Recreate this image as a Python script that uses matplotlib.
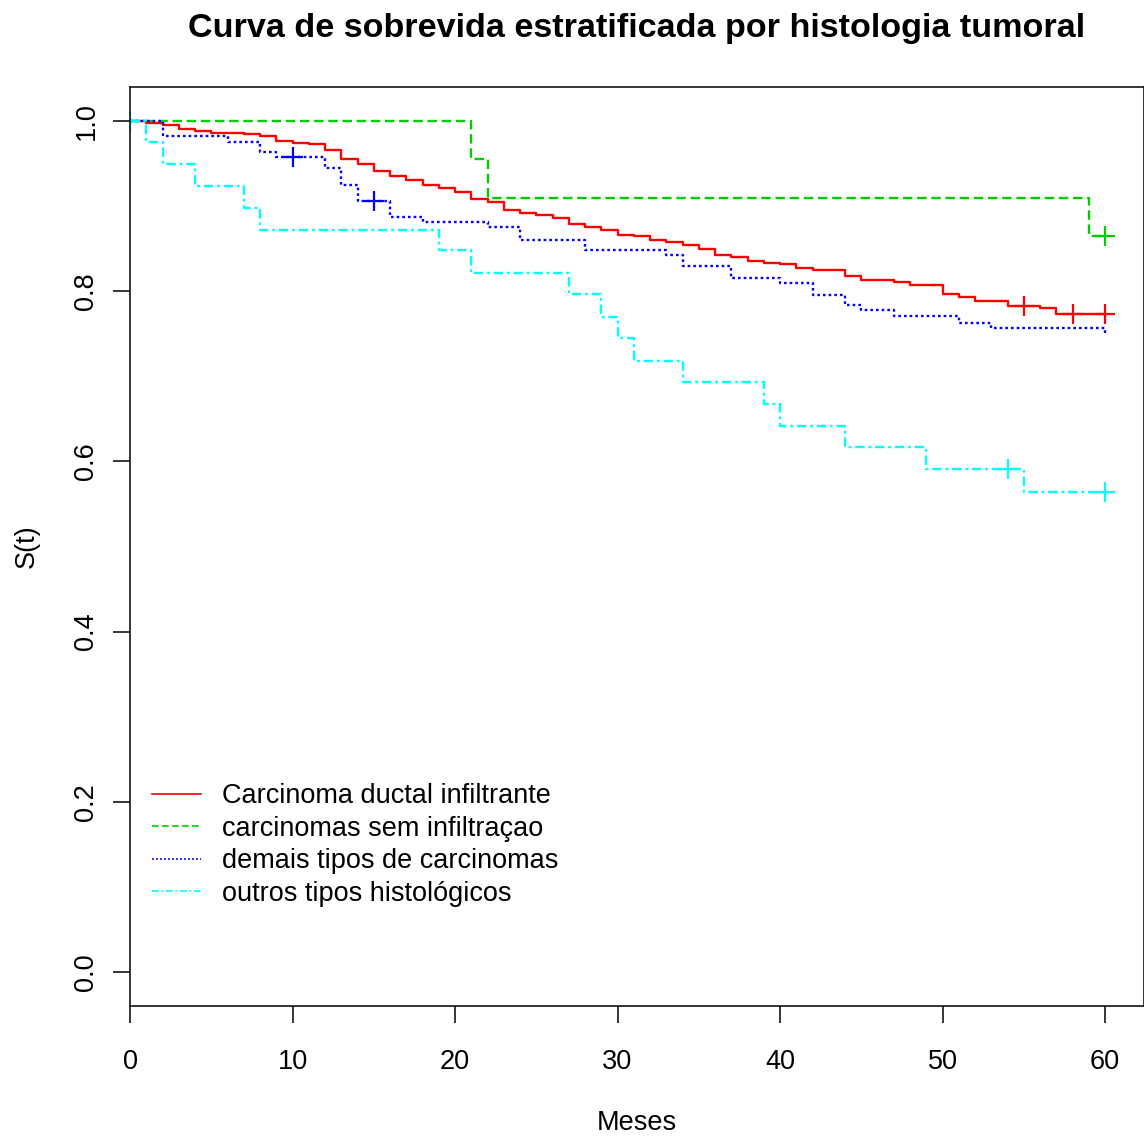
import numpy as np
import matplotlib
matplotlib.use("Agg")
import matplotlib.pyplot as plt

plt.rcParams['font.family'] = ['Liberation Sans', 'DejaVu Sans']

# Kaplan-Meier estimates (time in months, S(t) after the step)
t_ductal = [0, 1, 2, 3, 4, 5, 7, 8, 9, 10, 11, 12, 13, 14, 15, 16, 17, 18, 19, 20, 21, 22,
            23, 24, 25, 26, 27, 28, 29, 30, 31, 32, 33, 34, 35, 36, 37, 38, 39, 40, 41, 42,
            44, 45, 47, 48, 50, 51, 52, 54, 56, 57, 60]
s_ductal = [1.0, 0.998, 0.9953, 0.9906, 0.9878, 0.9862, 0.9843, 0.9827, 0.976, 0.9745, 0.9729,
            0.9662, 0.9553, 0.950, 0.9415, 0.9349, 0.931, 0.9247, 0.9208, 0.9169, 0.9082, 0.9043,
            0.8957, 0.8914, 0.889, 0.8855, 0.8792, 0.8749, 0.8725, 0.8662, 0.8647, 0.8604, 0.858,
            0.8545, 0.8498, 0.842, 0.8404, 0.8357, 0.8333, 0.8321, 0.8274, 0.8255, 0.8176, 0.8133,
            0.811, 0.807, 0.7965, 0.7929, 0.7882, 0.7824, 0.7804, 0.7737, 0.7737]
cens_t_ductal = [55, 58, 60]
cens_s_ductal = [0.7824, 0.7737, 0.7737]

t_sem = [0, 21, 22, 59, 60]
s_sem = [1.0, 0.955, 0.910, 0.865, 0.865]
cens_t_sem = [60]
cens_s_sem = [0.865]

t_demais = [0, 2, 6, 8, 9, 12, 13, 14, 16, 18, 22, 24, 28, 33, 34, 37, 40, 42, 44, 45, 47,
            51, 53, 60]
s_demais = [1.0, 0.9824, 0.9757, 0.964, 0.9576, 0.9447, 0.9247, 0.9063, 0.8874, 0.8808, 0.8757,
            0.8604, 0.8486, 0.842, 0.8298, 0.8153, 0.8098, 0.796, 0.7839, 0.7776, 0.7706,
            0.7631, 0.7573, 0.7514]
cens_t_demais = [10, 15]
cens_s_demais = [0.9576, 0.9063]

t_outros = [0, 1, 2, 4, 7, 8, 19, 21, 27, 29, 30, 31, 34, 39, 40, 44, 49, 55, 60]
s_outros = [1.0, 0.9757, 0.949, 0.9239, 0.8976, 0.8721, 0.8482, 0.8212, 0.7965, 0.7698, 0.7455,
            0.718, 0.6933, 0.6679, 0.6415, 0.6168, 0.5906, 0.5635, 0.5635]
cens_t_outros = [0, 54, 60]
cens_s_outros = [1.0, 0.5906, 0.5635]

labels = ['Carcinoma ductal infiltrante', 'carcinomas sem infiltraçao',
          'demais tipos de carcinomas', 'outros tipos histológicos']
cores = ['#FF0000', '#00CD00', '#0000FF', '#00FFFF']
estilos = ['-', (0, (4, 2)), (0, (1.1, 1.3)), (0, (4, 1.6, 1.2, 1.6))]

fig = plt.figure(figsize=(11.44, 11.39), dpi=100)
ax = fig.add_axes([130/1144, (1139-1006)/1139, 1014/1144, 919/1139])

grupos = [(t_ductal, s_ductal, cens_t_ductal, cens_s_ductal),
          (t_sem, s_sem, cens_t_sem, cens_s_sem),
          (t_demais, s_demais, cens_t_demais, cens_s_demais),
          (t_outros, s_outros, cens_t_outros, cens_s_outros)]

handles = []
for (t, s, ct, cs), lab, c, ls in zip(grupos, labels, cores, estilos):
    h, = ax.plot(t, s, drawstyle='steps-post', color=c, lw=1.7, linestyle=ls, label=lab)
    ax.plot(ct, cs, linestyle='none', marker='+', color=c, markersize=14, mew=1.6)
    handles.append(h)

ax.set_xlim(0, 62.4)
ax.set_ylim(-0.04, 1.04)
ax.set_xticks([0, 10, 20, 30, 40, 50, 60])
ax.set_yticks([0.0, 0.2, 0.4, 0.6, 0.8, 1.0])
ax.set_yticklabels(['0.0', '0.2', '0.4', '0.6', '0.8', '1.0'], rotation=90, va='center')
ax.tick_params(axis='both', labelsize=19.5, length=12, width=1.1, direction='out')
ax.tick_params(axis='x', pad=19)
ax.tick_params(axis='y', pad=10)
for sp in ax.spines.values():
    sp.set_linewidth(1.1)

ax.set_xlabel('Meses', fontsize=19.5, labelpad=25)
ax.set_ylabel('S(t)', fontsize=19.5, labelpad=24)
fig.text(637/1144, 1 - 28/1139, 'Curva de sobrevida estratificada por histologia tumoral',
         fontsize=24.6, fontweight='bold', ha='center', va='center')

leg = ax.legend(handles=handles, loc='upper left', bbox_to_anchor=(0.011, 0.254),
                frameon=False, fontsize=19.5, handlelength=1.8, handletextpad=0.8,
                labelspacing=0.24, borderaxespad=0)
for ln in leg.get_lines():
    ln.set_linewidth(1.2)

fig.savefig('out.png', dpi=100)
